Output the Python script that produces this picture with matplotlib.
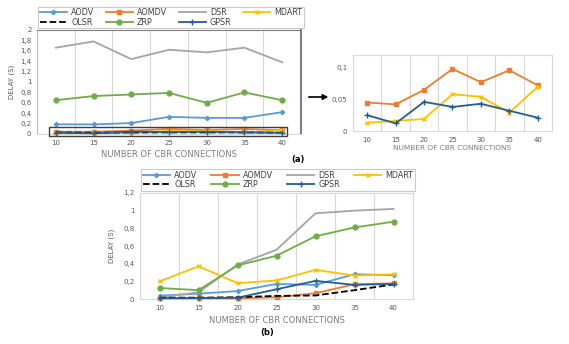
import matplotlib.pyplot as plt
from matplotlib.patches import Rectangle, FancyArrowPatch
from matplotlib.ticker import FuncFormatter, MultipleLocator

connections = [10, 15, 20, 25, 30, 35, 40]
protocols = ["AODV", "AOMDV", "DSR", "MDART", "OLSR", "ZRP", "GPSR"]

# panel (a) - delay (s)
a_aodv = [0.185, 0.185, 0.21, 0.33, 0.31, 0.31, 0.42]
a_aomdv = [0.045, 0.042, 0.065, 0.098, 0.077, 0.096, 0.072]
a_dsr = [1.66, 1.78, 1.44, 1.62, 1.57, 1.66, 1.38]
a_mdart = [0.013, 0.016, 0.019, 0.058, 0.054, 0.029, 0.070]
a_olsr = [0.03, 0.025, 0.03, 0.03, 0.03, 0.03, 0.025]
a_zrp = [0.65, 0.73, 0.76, 0.79, 0.60, 0.80, 0.65]
a_gpsr = [0.025, 0.012, 0.046, 0.038, 0.043, 0.032, 0.021]

# panel (b) - delay (s)
b_aodv = [0.038, 0.06, 0.09, 0.17, 0.16, 0.28, 0.27]
b_aomdv = [0.008, 0.008, 0.008, 0.02, 0.065, 0.167, 0.178]
b_dsr = [0.02, 0.075, 0.39, 0.557, 0.97, 1.0, 1.02]
b_mdart = [0.20, 0.37, 0.18, 0.21, 0.33, 0.265, 0.28]
b_olsr = [0.015, 0.015, 0.02, 0.035, 0.04, 0.10, 0.165]
b_zrp = [0.125, 0.10, 0.38, 0.49, 0.71, 0.81, 0.875]
b_gpsr = [0.008, 0.01, 0.015, 0.11, 0.205, 0.16, 0.17]

styles = {
    "AODV": dict(color="#5B9BD5", marker="D", ms=2.2, ls="-"),
    "AOMDV": dict(color="#ED7D31", marker="s", ms=3.5, ls="-"),
    "DSR": dict(color="#A5A5A5", marker=None, ls="-"),
    "MDART": dict(color="#FFC000", marker="x", ms=3.5, ls="-"),
    "OLSR": dict(color="black", marker=None, ls="--"),
    "ZRP": dict(color="#70AD47", marker="o", ms=3.5, ls="-"),
    "GPSR": dict(color="#255E91", marker="+", ms=4, ls="-"),
}

tick_col = "#595959"
fmt = FuncFormatter(lambda v, p: f"{v:g}".replace(".", ","))


def style_axes(ax, ymax, ystep, tfs=5):
    x = range(len(connections))
    ax.set_xlim(-0.5, len(connections) - 0.5)
    ax.set_ylim(0, ymax)
    ax.set_xticks(list(x))
    ax.set_xticklabels([str(c) for c in connections])
    ax.set_xticks([i + 0.5 for i in range(-1, len(connections))], minor=True)
    ax.grid(which="minor", axis="x", color="#D9D9D9", lw=0.8)
    ax.yaxis.set_major_locator(MultipleLocator(ystep))
    ax.yaxis.set_major_formatter(fmt)
    ax.tick_params(which="both", length=0, labelsize=tfs, labelcolor=tick_col, pad=4)
    for s in ax.spines.values():
        s.set_color("#D9D9D9")
        s.set_linewidth(0.8)


def draw(ax, series, names):
    handles = {}
    for name, vals in zip(names, series):
        st = styles[name]
        ln, = ax.plot(range(len(connections)), vals, color=st["color"], ls=st["ls"],
                      marker=st["marker"], ms=st.get("ms", 0), lw=1.3, label=name,
                      clip_on=False, zorder=3)
        handles[name] = ln
    return handles


def legend(fig, handles, box):
    order = ["AODV", "OLSR", "AOMDV", "ZRP", "DSR", "GPSR", "MDART"]
    lg = fig.legend([handles[n] for n in order], order, ncol=4, loc="center",
                    bbox_to_anchor=box, mode="expand", fontsize=5.8, frameon=True,
                    fancybox=False, edgecolor="#BFBFBF", handlelength=3.4,
                    borderaxespad=0, borderpad=0.2, labelspacing=0.05,
                    handletextpad=0.5, columnspacing=0.8)
    lg.get_frame().set_linewidth(0.8)
    for t in lg.get_texts():
        t.set_color("#404040")


fig = plt.figure(figsize=(5.69, 3.44), dpi=100)
W, H = 569, 344


def px_axes(x0, y0, x1, y1):
    return fig.add_axes([x0 / W, 1 - y1 / H, (x1 - x0) / W, (y1 - y0) / H])


# panel (a)
ax_a = px_axes(37, 30, 301, 134)
style_axes(ax_a, 2, 0.2)
h_a = draw(ax_a, [a_aodv, a_aomdv, a_dsr, a_mdart, a_olsr, a_zrp, a_gpsr], protocols)
ax_a.spines["top"].set_color("#7F7F7F")
ax_a.spines["right"].set_color("#7F7F7F")
ax_a.spines["right"].set_linewidth(1.5)
ax_a.spines["left"].set_color("#BFBFBF")
ax_a.set_ylabel("DELAY (S)", fontsize=5, color=tick_col, labelpad=4)
ax_a.set_xlabel("NUMBER OF CBR CONNECTIONS", fontsize=6, color="#7F7F7F", labelpad=3)
ax_a.add_patch(Rectangle((-0.17, -0.04), 6.3, 0.18, fill=False, edgecolor="#404040",
                         lw=1.0, clip_on=False, zorder=4))
legend(fig, h_a, (38 / W, 1 - 26 / H, (304 - 38) / W, 17 / H))

# inset of panel (a)
ax_i = px_axes(353, 55, 552, 131)
style_axes(ax_i, 0.12, 0.05)
draw(ax_i, [a_aomdv, a_mdart, a_gpsr], ["AOMDV", "MDART", "GPSR"])
ax_i.set_xlabel("NUMBER OF CBR CONNECTIONS", fontsize=5.3, color="#7F7F7F", labelpad=2)

fig.text(298 / W, 1 - 160 / H, "(a)", fontsize=6, fontweight="bold", ha="center", va="center")
fig.add_artist(FancyArrowPatch(
    (306 / W, 1 - 97 / H), (331 / W, 1 - 97 / H), transform=fig.transFigure,
    arrowstyle="-|>,head_length=3,head_width=1.6", color="black", lw=1.2))

# panel (b)
ax_b = px_axes(140, 193, 413, 299)
style_axes(ax_b, 1.2, 0.2)
h_b = draw(ax_b, [b_aodv, b_aomdv, b_dsr, b_mdart, b_olsr, b_zrp, b_gpsr], protocols)
ax_b.set_ylabel("DELAY (S)", fontsize=5, color=tick_col, labelpad=6)
ax_b.set_xlabel("NUMBER OF CBR CONNECTIONS", fontsize=6, color="#7F7F7F", labelpad=4)
legend(fig, h_b, (141 / W, 1 - 189 / H, (415 - 141) / W, 18 / H))
fig.text(267 / W, 1 - 333 / H, "(b)", fontsize=6, fontweight="bold", ha="center", va="center")

fig.savefig("out.png", dpi=100)
